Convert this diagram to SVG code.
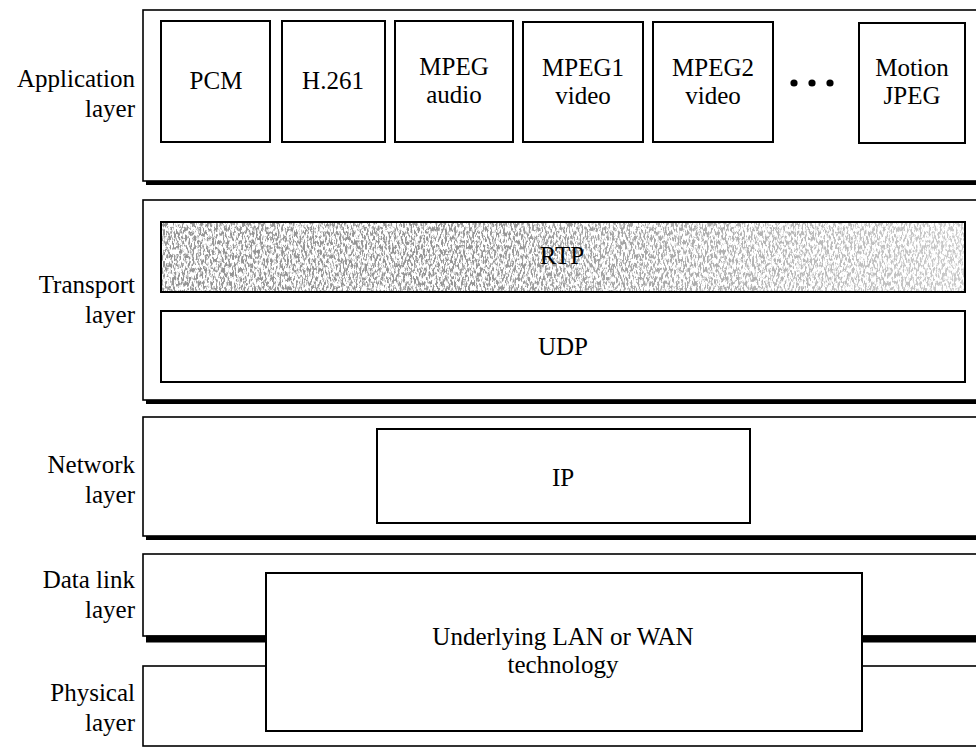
<svg xmlns="http://www.w3.org/2000/svg" width="976" height="749" viewBox="0 0 976 749" font-family="'Liberation Serif', 'Times New Roman', Times, serif">
<style>
  text { font-size: 25px; fill: #000; }
  .lbl { text-anchor: end; }
  .c { text-anchor: middle; }
  .frame { fill: none; stroke: #000; stroke-width: 1.6; }
  .shadow { stroke: #000; stroke-width: 4; fill: none; }
  .box { fill: #fff; stroke: #000; stroke-width: 2; }
</style>
<defs>
  <filter id="noise" x="0" y="0" width="100%" height="100%" filterUnits="objectBoundingBox">
    <feTurbulence type="fractalNoise" baseFrequency="0.55 0.22" numOctaves="3" seed="7" result="t"/>
    <feColorMatrix in="t" type="matrix" values="0 0 0 0 0.3  0 0 0 0 0.3  0 0 0 0 0.3  6 0 0 0 -2.7"/>
  </filter>
  <linearGradient id="fade" x1="0" y1="0" x2="1" y2="0">
    <stop offset="0" stop-color="#fff" stop-opacity="1"/>
    <stop offset="0.4" stop-color="#fff" stop-opacity="1"/>
    <stop offset="1" stop-color="#fff" stop-opacity="0.5"/>
  </linearGradient>
  <mask id="m" maskContentUnits="userSpaceOnUse">
    <rect x="161" y="222" width="804" height="70" fill="url(#fade)"/>
  </mask>
</defs>

<g id="application-layer">
  <rect class="frame" x="143" y="10" width="840" height="171"/>
  <line class="shadow" x1="146" y1="183" x2="980" y2="183"/>
  <text class="lbl" x="135" y="87" font-family="Liberation Serif">Application</text>
  <text class="lbl" x="135" y="117">layer</text>
</g>
<g id="pcm">
  <rect class="box" x="161" y="21" width="109" height="121"/>
  <text class="c" x="216" y="89">PCM</text>
</g>
<g id="h261">
  <rect class="box" x="282" y="21" width="103" height="121"/>
  <text class="c" x="333" y="89">H.261</text>
</g>
<g id="mpeg-audio">
  <rect class="box" x="395" y="21" width="118" height="121"/>
  <text class="c" x="454" y="75">MPEG</text>
  <text class="c" x="454" y="103">audio</text>
</g>
<g id="mpeg1-video">
  <rect class="box" x="523" y="22" width="120" height="120"/>
  <text class="c" x="583" y="76">MPEG1</text>
  <text class="c" x="583" y="104">video</text>
</g>
<g id="mpeg2-video">
  <rect class="box" x="653" y="22" width="120" height="120"/>
  <text class="c" x="713" y="76">MPEG2</text>
  <text class="c" x="713" y="104">video</text>
</g>
<g id="ellipsis">
  <circle cx="794" cy="83" r="3.6"/>
  <circle cx="812" cy="83" r="3.6"/>
  <circle cx="830" cy="83" r="3.6"/>
</g>
<g id="motion-jpeg">
  <rect class="box" x="859" y="23" width="106" height="120"/>
  <text class="c" x="912" y="76">Motion</text>
  <text class="c" x="912" y="104">JPEG</text>
</g>

<g id="transport-layer">
  <rect class="frame" x="143" y="200" width="840" height="200"/>
  <line class="shadow" x1="146" y1="402" x2="980" y2="402"/>
  <text class="lbl" x="135" y="293">Transport</text>
  <text class="lbl" x="135" y="323">layer</text>
</g>
<g id="rtp">
  <rect x="161" y="222" width="804" height="70" fill="#fff"/>
  <rect x="161" y="222" width="804" height="70" fill="#fff" filter="url(#noise)" mask="url(#m)"/>
  <rect x="161" y="222" width="804" height="70" fill="none" stroke="#000" stroke-width="2"/>
  <text class="c" x="562" y="264">RTP</text>
</g>
<g id="udp">
  <rect class="box" x="161" y="311" width="804" height="71"/>
  <text class="c" x="563" y="355">UDP</text>
</g>

<g id="network-layer">
  <rect class="frame" x="143" y="417" width="840" height="119"/>
  <line class="shadow" x1="146" y1="538" x2="980" y2="538"/>
  <text class="lbl" x="135" y="473">Network</text>
  <text class="lbl" x="135" y="503">layer</text>
</g>
<g id="ip">
  <rect class="box" x="377" y="429" width="373" height="94"/>
  <text class="c" x="563" y="486">IP</text>
</g>

<g id="data-link-layer">
  <rect class="frame" x="143" y="554" width="840" height="82"/>
  <line x1="146" y1="639" x2="980" y2="639" stroke="#000" stroke-width="7"/>
  <text class="lbl" x="135" y="588">Data link</text>
  <text class="lbl" x="135" y="618">layer</text>
</g>
<g id="physical-layer">
  <rect x="143" y="666" width="840" height="80" fill="none" stroke="#000" stroke-width="1.6"/>
  <text class="lbl" x="135" y="701">Physical</text>
  <text class="lbl" x="135" y="731">layer</text>
</g>
<g id="underlying">
  <rect class="box" x="266" y="573" width="596" height="158"/>
  <text class="c" x="563" y="645">Underlying LAN or WAN</text>
  <text class="c" x="563" y="673">technology</text>
</g>
<g id="connectors"></g>
</svg>
